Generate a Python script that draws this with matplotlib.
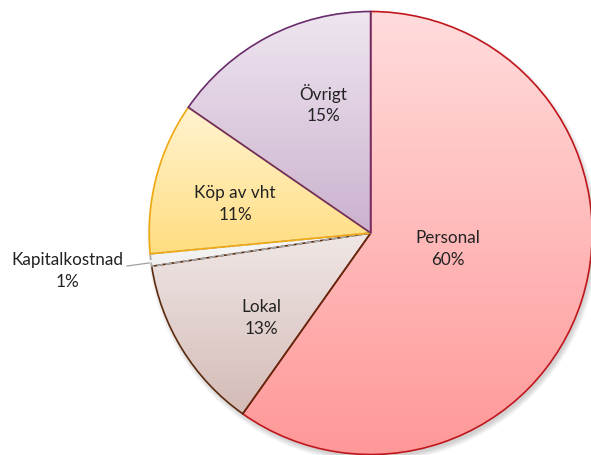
"""Pie chart of cost shares with per-slice vertical gradients."""

import numpy as np
import matplotlib.pyplot as plt
from matplotlib.patches import Wedge, Circle
from matplotlib.colors import LinearSegmentedColormap

# data (clockwise from 12 o'clock), shares in percent
labels = ["Personal", "Lokal", "Kapitalkostnad", "Köp av vht", "Övrigt"]
shares = [59.8, 12.8, 0.9, 11.1, 15.4]

# fill gradient (top colour, bottom colour) and edge colour per slice
tops = ["#ffdcdc", "#efe7e6", "#f7f7f7", "#fff3d0", "#efe6f0"]
bottoms = ["#ff9898", "#d4bbb6", "#f0f0f0", "#ffdd80", "#cbb2cf"]
edges = ["#c0161c", "#5c2a0c", "#a8a8a8", "#f0a810", "#6a2c6c"]

W, H = 591, 456
CX, CY, R = 370.7, 456 - 234, 221.5


def main() -> None:
    plt.rcParams["font.family"] = ["Lato", "DejaVu Sans"]
    fig = plt.figure(figsize=(W / 100, H / 100), dpi=100)
    ax = fig.add_axes([0, 0, 1, 1])
    ax.set_xlim(0, W)
    ax.set_ylim(0, H)
    ax.set_aspect("equal")
    ax.axis("off")

    # soft drop shadow
    for i in range(6):
        ax.add_patch(Circle((CX + 2, CY - 4), R + 4 - i, color="#000000",
                            alpha=0.03, lw=0, zorder=0))

    total = sum(shares)
    angle = 90.0
    for lab, val, top, bot, ec in zip(labels, shares, tops, bottoms, edges):
        sweep = 360.0 * val / total
        t1, t2 = angle - sweep, angle
        angle = t1

        w = Wedge((CX, CY), R, t1, t2, facecolor="none", edgecolor=ec,
                  lw=1.2, ls="--" if lab == "Kapitalkostnad" else "-", zorder=3)
        ax.add_patch(w)

        # gradient clipped to the slice, spanning the slice's vertical extent
        th = np.radians(np.linspace(t1, t2, 200))
        ys = np.concatenate([[CY], CY + R * np.sin(th)])
        y0, y1 = ys.min(), ys.max()
        cmap = LinearSegmentedColormap.from_list(lab, [bot, top])
        grad = np.linspace(0, 1, 256).reshape(-1, 1)
        im = ax.imshow(grad, cmap=cmap, origin="lower", aspect="auto",
                       extent=[CX - R, CX + R, y0, y1], zorder=2,
                       interpolation="bilinear")
        clip = Wedge((CX, CY), R, t1, t2, transform=ax.transData)
        im.set_clip_path(clip)

    ax.set_xlim(0, W)
    ax.set_ylim(0, H)

    text_pos = {
        "Personal": (448, 249),
        "Lokal": (261, 318),
        "Köp av vht": (235, 204),
        "Övrigt": (323, 104),
        "Kapitalkostnad": (67, 271),
    }
    for lab, val in zip(labels, shares):
        x, y = text_pos[lab]
        ax.text(x, H - y, f"{lab}\n{val:.0f}%", ha="center", va="center",
                fontsize=12.3, color="#222222", linespacing=1.45, zorder=5)

    # leader line for the small slice
    ax.plot([127, 149], [H - 267, H - 264], color="#a0a0a0", lw=0.9, zorder=4)

    fig.savefig("out.png", dpi=100)


if __name__ == "__main__":
    main()
